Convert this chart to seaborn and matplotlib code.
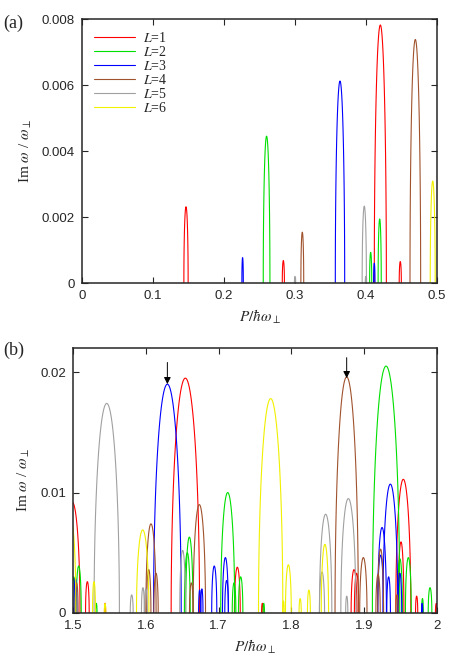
import numpy as np
import pandas as pd
import matplotlib
matplotlib.use("Agg")
import matplotlib.pyplot as plt
import seaborn as sns

# peaks: (centre, half width, height) for each L
top_L1 = [(0.1465, 0.0030, 0.00231), (0.2836, 0.0015, 0.00068), (0.4202, 0.0085, 0.00782), (0.4483, 0.0015, 0.00065)]
top_L2 = [(0.2600, 0.0047, 0.00445), (0.4066, 0.0015, 0.00093), (0.4193, 0.0022, 0.00194)]
top_L3 = [(0.2262, 0.0010, 0.00077), (0.3634, 0.0066, 0.00612), (0.4117, 0.0010, 0.00060)]
top_L4 = [(0.3103, 0.0020, 0.00154), (0.4695, 0.0075, 0.00738)]
top_L5 = [(0.3000, 0.0008, 0.00020), (0.3976, 0.0030, 0.00233), (0.3996, 0.0006, 0.00020)]
top_L6 = [(0.4940, 0.0035, 0.00309)]

bot_L1 = [(1.4990, 0.0106, 0.0092), (1.5197, 0.0025, 0.0026), (1.5440, 0.0008, 0.0008),
          (1.6543, 0.0195, 0.0195), (1.7257, 0.0040, 0.0038), (1.7600, 0.0010, 0.0008),
          (1.8860, 0.0040, 0.0036), (1.8895, 0.0030, 0.0033), (1.9537, 0.0103, 0.0111),
          (1.9505, 0.0040, 0.0059), (1.9720, 0.0015, 0.0014), (1.9990, 0.0012, 0.0008)]
bot_L2 = [(1.5010, 0.0020, 0.0030), (1.5078, 0.0035, 0.0039), (1.5320, 0.0010, 0.0008),
          (1.6598, 0.0050, 0.0063), (1.6570, 0.0040, 0.0050), (1.7125, 0.0096, 0.0100),
          (1.7212, 0.0025, 0.0025), (1.7303, 0.0030, 0.0030), (1.7620, 0.0010, 0.0008),
          (1.9300, 0.0188, 0.0205), (1.9606, 0.0040, 0.0046), (1.9490, 0.0035, 0.0045),
          (1.9800, 0.0012, 0.0012), (1.9904, 0.0025, 0.0021)]
bot_L3 = [(1.5033, 0.0020, 0.0029), (1.6296, 0.0190, 0.0190), (1.6740, 0.0015, 0.0019),
          (1.6770, 0.0015, 0.0020), (1.6940, 0.0035, 0.0039), (1.7093, 0.0040, 0.0046),
          (1.7110, 0.0025, 0.0027), (1.9359, 0.0102, 0.0107), (1.9245, 0.0060, 0.0071),
          (1.9225, 0.0040, 0.0048), (1.9335, 0.0025, 0.0030), (1.9490, 0.0025, 0.0033),
          (1.9795, 0.0008, 0.0008)]
bot_L4 = [(1.5050, 0.0020, 0.0025), (1.6040, 0.0030, 0.0036), (1.6071, 0.0070, 0.0074),
          (1.6140, 0.0030, 0.0033), (1.6625, 0.0025, 0.0025), (1.6735, 0.0085, 0.0090),
          (1.8759, 0.0160, 0.0196), (1.8988, 0.0050, 0.0046), (1.9190, 0.0030, 0.0032),
          (1.9225, 0.0040, 0.0053), (1.9450, 0.0015, 0.0015)]
bot_L5 = [(1.5463, 0.0174, 0.0174), (1.5806, 0.0020, 0.0015), (1.5960, 0.0020, 0.0021),
          (1.6000, 0.0020, 0.0020), (1.6506, 0.0040, 0.0052), (1.8420, 0.0035, 0.0034),
          (1.8470, 0.0085, 0.0082), (1.8760, 0.0015, 0.0014), (1.8782, 0.0103, 0.0095)]
bot_L6 = [(1.4970, 0.0070, 0.0078), (1.5288, 0.0020, 0.0026), (1.5440, 0.0010, 0.0008),
          (1.5957, 0.0085, 0.0069), (1.7715, 0.0167, 0.0178), (1.7890, 0.0010, 0.0010),
          (1.7958, 0.0040, 0.0040), (1.8120, 0.0015, 0.0012), (1.8240, 0.0020, 0.0019),
          (1.8460, 0.0050, 0.0057)]

labels = [r"$L$=1", r"$L$=2", r"$L$=3", r"$L$=4", r"$L$=5", r"$L$=6"]
colors = ["#ff0000", "#00e000", "#0000ff", "#a0522d", "#a0a0a0", "#f0f000"]

arrow_x = [1.6296, 1.8759]
arrow_top = [0.0208, 0.0212]
arrow_tip = [0.0190, 0.0195]


def arches(series):
    rows = []
    t = np.linspace(np.pi, 0, 80)
    for lab, peaks in zip(labels, series):
        for k, (c, w, h) in enumerate(peaks):
            for x, y in zip(c + w * np.cos(t), h * np.sin(t)):
                rows.append({"P": x, "Im": y, "L": lab, "peak": lab + str(k)})
    return pd.DataFrame(rows)


sns.set_style("ticks")
plt.rcParams["mathtext.fontset"] = "stix"
plt.rcParams["font.family"] = ["Liberation Sans", "DejaVu Sans"]

fig = plt.figure(figsize=(4.63, 6.58), dpi=100)
ax1 = fig.add_axes([0.1771, 0.5699, 0.7667, 0.4012])
ax2 = fig.add_axes([0.1577, 0.0684, 0.7862, 0.4027])

top = arches([top_L1, top_L2, top_L3, top_L4, top_L5, top_L6])
bot = arches([bot_L1, bot_L2, bot_L3, bot_L4, bot_L5, bot_L6])

for ax, df, show in [(ax1, top, True), (ax2, bot, False)]:
    sns.lineplot(data=df, x="P", y="Im", hue="L", units="peak", estimator=None,
                 palette=colors, hue_order=labels, lw=0.8, sort=False, legend=show, ax=ax)

ax1.set_xlim(0, 0.5)
ax1.set_ylim(0, 0.008)
ax1.set_xticks([0, 0.1, 0.2, 0.3, 0.4, 0.5])
ax1.set_xticklabels(["0", "0.1", "0.2", "0.3", "0.4", "0.5"])
ax1.set_yticks([0, 0.002, 0.004, 0.006, 0.008])
ax1.set_yticklabels(["0", "0.002", "0.004", "0.006", "0.008"])

ax2.set_xlim(1.5, 2.0)
ax2.set_ylim(0, 0.022)
ax2.set_xticks([1.5, 1.6, 1.7, 1.8, 1.9, 2.0])
ax2.set_xticklabels(["1.5", "1.6", "1.7", "1.8", "1.9", "2"])
ax2.set_yticks([0, 0.01, 0.02])
ax2.set_yticklabels(["0", "0.01", "0.02"])

for x, y0, y1 in zip(arrow_x, arrow_top, arrow_tip):
    ax2.annotate("", xy=(x, y1), xytext=(x, y0),
                 arrowprops=dict(arrowstyle="-|>", color="black", lw=0.7,
                                 mutation_scale=10, shrinkA=0, shrinkB=0))

for ax in (ax1, ax2):
    ax.tick_params(direction="in", top=True, right=True, length=4, width=0.8,
                   labelsize=9.5, pad=5)
    for s in ax.spines.values():
        s.set_linewidth(1.1)
        s.set_visible(True)
    ax.set_xlabel(r"$P/\hbar\omega_{\perp}$", fontsize=11, family="serif", labelpad=4)
    ax.set_ylabel(r"Im $\omega$ / $\omega_{\perp}$", fontsize=11, family="Liberation Serif", labelpad=6)

handles, labs = ax1.get_legend_handles_labels()
ax1.legend(handles, labs, loc="upper left", frameon=False,
           labelspacing=0.0, handlelength=3.0, handletextpad=0.55,
           borderaxespad=0.45, prop={"family": "Liberation Serif", "size": 10})

fig.text(0.008, 0.965, "(a)", fontsize=13, family="Liberation Serif", va="center")
fig.text(0.008, 0.468, "(b)", fontsize=13, family="Liberation Serif", va="center")

fig.savefig("out.png", dpi=100)
